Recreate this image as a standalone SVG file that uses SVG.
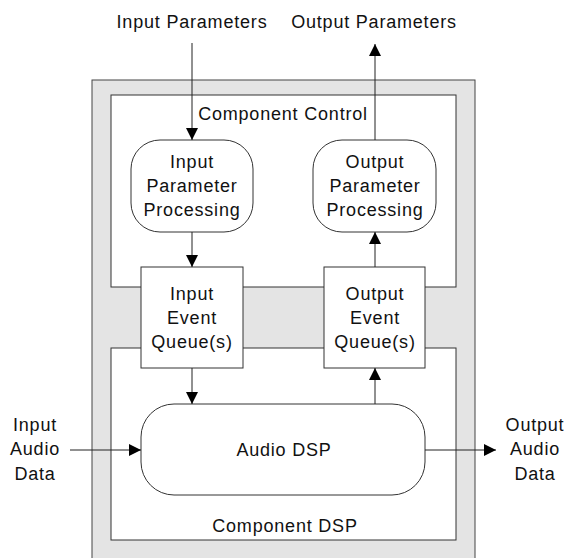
<svg xmlns="http://www.w3.org/2000/svg" width="568" height="558" viewBox="0 0 568 558">
  <style>
    text { font-family: "Liberation Sans", Arial, sans-serif; font-size: 18px; letter-spacing: 0.8px; fill: #111; text-anchor: middle; }
    .frame { stroke: #444; stroke-width: 1; }
    .box { fill: #fff; stroke: #333; stroke-width: 1; }
    .wire { stroke: #222; stroke-width: 1; fill: none; marker-end: url(#arrow); }
  </style>
  <defs>
    <marker id="arrow" markerUnits="userSpaceOnUse" markerWidth="12" markerHeight="12" viewBox="0 0 12 12" refX="12" refY="6" orient="auto">
      <path d="M0,0 L12,6 L0,12 Z" fill="#000"/>
    </marker>
  </defs>
  <rect width="568" height="558" fill="#fff"/>

  <!-- outer component housing -->
  <g id="component">
    <rect x="92" y="80" width="383" height="500" fill="#e4e4e4" class="frame"/>
  </g>

  <g id="component-control">
    <rect x="111" y="95" width="345" height="192" class="box"/>
    <text x="283" y="120">Component Control</text>
  </g>

  <g id="component-dsp">
    <rect x="111" y="348" width="345" height="192" class="box"/>
    <text x="285" y="532">Component DSP</text>
  </g>

  <g id="input-parameter-processing">
    <rect x="131" y="140" width="122" height="92" rx="29" class="box"/>
    <text x="192" y="168">Input</text>
    <text x="192" y="192">Parameter</text>
    <text x="192" y="216">Processing</text>
  </g>

  <g id="output-parameter-processing">
    <rect x="313" y="140" width="123" height="92" rx="29" class="box"/>
    <text x="375" y="168">Output</text>
    <text x="375" y="192">Parameter</text>
    <text x="375" y="216">Processing</text>
  </g>

  <g id="input-event-queue">
    <rect x="141" y="267" width="102" height="101" class="box"/>
    <text x="192" y="300">Input</text>
    <text x="192" y="324">Event</text>
    <text x="192" y="348">Queue(s)</text>
  </g>

  <g id="output-event-queue">
    <rect x="324" y="267" width="101" height="101" class="box"/>
    <text x="375" y="300">Output</text>
    <text x="375" y="324">Event</text>
    <text x="375" y="348">Queue(s)</text>
  </g>

  <g id="audio-dsp">
    <rect x="141" y="404" width="284" height="91" rx="33" class="box"/>
    <text x="284" y="456">Audio DSP</text>
  </g>

  <g id="input-parameters">
    <text x="192" y="28">Input Parameters</text>
  </g>
  <g id="output-parameters">
    <text x="374" y="28">Output Parameters</text>
  </g>
  <g id="input-audio-data">
    <text x="35" y="431">Input</text>
    <text x="35" y="455">Audio</text>
    <text x="35" y="480">Data</text>
  </g>
  <g id="output-audio-data">
    <text x="535" y="431">Output</text>
    <text x="535" y="455">Audio</text>
    <text x="535" y="480">Data</text>
  </g>

  <g id="connectors">
    <line x1="192" y1="43" x2="192" y2="140" class="wire"/>
    <line x1="192" y1="232" x2="192" y2="267" class="wire"/>
    <line x1="192" y1="368" x2="192" y2="404" class="wire"/>
    <line x1="375" y1="404" x2="375" y2="368" class="wire"/>
    <line x1="375" y1="267" x2="375" y2="232" class="wire"/>
    <line x1="375" y1="140" x2="375" y2="44" class="wire"/>
    <line x1="70" y1="450" x2="141" y2="450" class="wire"/>
    <line x1="425" y1="450" x2="496" y2="450" class="wire"/>
  </g>
</svg>
